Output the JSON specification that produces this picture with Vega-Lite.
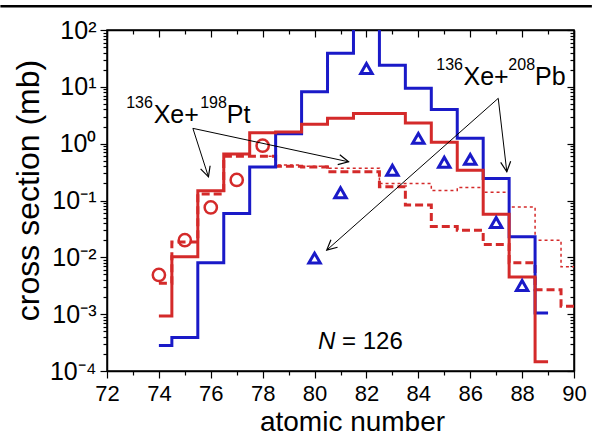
{
  "$schema": "https://vega.github.io/schema/vega-lite/v6.json",
  "width": 467,
  "height": 341,
  "autosize": {"type": "none"},
  "padding": {"left": 107, "top": 30, "right": 18, "bottom": 66},
  "background": "white",
  "config": {
    "view": {"stroke": "black", "strokeWidth": 1.5},
    "font": "Liberation Sans",
    "axis": {"domainColor": "black", "domainWidth": 1.5, "tickColor": "black", "tickWidth": 1.2, "labelColor": "black", "titleColor": "black", "grid": false, "labelFont": "Liberation Sans", "titleFont": "Liberation Sans", "titleFontWeight": "normal"}
  },
  "datasets": {
    "steps": [
      {"z": 78, "v": 0.6, "s": "dot"}, {"z": 79, "v": 0.42, "s": "dot"}, {"z": 80, "v": 0.40, "s": "dot"}, {"z": 81, "v": 0.37, "s": "dot"}, {"z": 82, "v": 0.37, "s": "dot"}, {"z": 83, "v": 0.2, "s": "dot"}, {"z": 84, "v": 0.2, "s": "dot"}, {"z": 85, "v": 0.15, "s": "dot"}, {"z": 86, "v": 0.17, "s": "dot"}, {"z": 87, "v": 0.14, "s": "dot"}, {"z": 88, "v": 0.077, "s": "dot"}, {"z": 89, "v": 0.020, "s": "dot"}, {"z": 90, "v": 0.0068, "s": "dot"},
      {"z": 74, "v": 0.0035, "s": "dash"}, {"z": 75, "v": 0.0187, "s": "dash"}, {"z": 76, "v": 0.13, "s": "dash"}, {"z": 77, "v": 0.6, "s": "dash"}, {"z": 78, "v": 0.6, "s": "dash"}, {"z": 79, "v": 0.40, "s": "dash"}, {"z": 80, "v": 0.39, "s": "dash"}, {"z": 81, "v": 0.32, "s": "dash"}, {"z": 82, "v": 0.32, "s": "dash"}, {"z": 83, "v": 0.174, "s": "dash"}, {"z": 84, "v": 0.083, "s": "dash"}, {"z": 85, "v": 0.035, "s": "dash"}, {"z": 86, "v": 0.030, "s": "dash"}, {"z": 87, "v": 0.0169, "s": "dash"}, {"z": 88, "v": 0.008, "s": "dash"}, {"z": 89, "v": 0.0027, "s": "dash"}, {"z": 90, "v": 0.00138, "s": "dash"},
      {"z": 74, "v": 0.00028, "s": "blue"}, {"z": 75, "v": 0.00039, "s": "blue"}, {"z": 76, "v": 0.008, "s": "blue"}, {"z": 77, "v": 0.059, "s": "blue"}, {"z": 78, "v": 0.39, "s": "blue"}, {"z": 79, "v": 1.5, "s": "blue"}, {"z": 80, "v": 8.2, "s": "blue"}, {"z": 81, "v": 39, "s": "blue"}, {"z": 82, "v": 500, "s": "blue"}, {"z": 83, "v": 24, "s": "blue"}, {"z": 84, "v": 9.4, "s": "blue"}, {"z": 85, "v": 4.0, "s": "blue"}, {"z": 86, "v": 1.24, "s": "blue"}, {"z": 87, "v": 0.245, "s": "blue"}, {"z": 88, "v": 0.023, "s": "blue"}, {"z": 89, "v": 0.00105, "s": "blue"},
      {"z": 74, "v": 0.00093, "s": "red"}, {"z": 75, "v": 0.0102, "s": "red"}, {"z": 76, "v": 0.148, "s": "red"}, {"z": 77, "v": 0.656, "s": "red"}, {"z": 78, "v": 1.55, "s": "red"}, {"z": 79, "v": 1.6, "s": "red"}, {"z": 80, "v": 2.2, "s": "red"}, {"z": 81, "v": 2.8, "s": "red"}, {"z": 82, "v": 3.4, "s": "red"}, {"z": 83, "v": 3.4, "s": "red"}, {"z": 84, "v": 2.3, "s": "red"}, {"z": 85, "v": 1.06, "s": "red"}, {"z": 86, "v": 0.34, "s": "red"}, {"z": 87, "v": 0.057, "s": "red"}, {"z": 88, "v": 0.0045, "s": "red"}, {"z": 89, "v": 0.000145, "s": "red"}
    ],
    "exp": [
      {"z": 74, "v": 0.0049, "t": "circle"}, {"z": 75, "v": 0.020, "t": "circle"}, {"z": 76, "v": 0.0755, "t": "circle"}, {"z": 77, "v": 0.23, "t": "circle"}, {"z": 78, "v": 0.92, "t": "circle"},
      {"z": 80, "v": 0.0097, "t": "tri"}, {"z": 81, "v": 0.137, "t": "tri"}, {"z": 82, "v": 21, "t": "tri"}, {"z": 83, "v": 0.34, "t": "tri"}, {"z": 84, "v": 1.24, "t": "tri"}, {"z": 85, "v": 0.47, "t": "tri"}, {"z": 86, "v": 0.53, "t": "tri"}, {"z": 87, "v": 0.041, "t": "tri"}, {"z": 88, "v": 0.0032, "t": "tri"}
    ],
    "arrows": [
      {"id": "a1", "o": 0, "z": 75.31, "v": 1.86}, {"id": "a1", "o": 1, "z": 75.91, "v": 0.261},
      {"id": "a2", "o": 0, "z": 75.31, "v": 1.86}, {"id": "a2", "o": 1, "z": 81.31, "v": 0.48},
      {"id": "b1", "o": 0, "z": 87.08, "v": 6.28}, {"id": "b1", "o": 1, "z": 87.41, "v": 0.32},
      {"id": "b2", "o": 0, "z": 87.08, "v": 6.28}, {"id": "b2", "o": 1, "z": 80.47, "v": 0.0134}
    ],
    "heads": [
      {"z": 75.91, "v": 0.261, "a": 72}, {"z": 81.31, "v": 0.48, "a": 12}, {"z": 87.41, "v": 0.32, "a": 83.5}, {"z": 80.47, "v": 0.0134, "a": 138.5}
    ],
    "labels": [
      {"z": 72.74, "v": 4.24, "t": "136", "s": 16}, {"z": 73.80, "v": 2.28, "t": "Xe+", "s": 25}, {"z": 75.59, "v": 4.24, "t": "198", "s": 16}, {"z": 76.62, "v": 2.28, "t": "Pt", "s": 25},
      {"z": 84.69, "v": 19.8, "t": "136", "s": 16}, {"z": 85.74, "v": 10.8, "t": "Xe+", "s": 25}, {"z": 87.47, "v": 19.8, "t": "208", "s": 16}, {"z": 88.50, "v": 10.8, "t": "Pb", "s": 25},
      {"z": 81.06, "v": 0.000242, "t": "= 126", "s": 24}
    ],
    "italic": [{"z": 80.13, "v": 0.000242, "t": "N"}],
    "frame": [{"z": 67.89, "z2": 90.69, "v": 262}]
  },
  "resolve": {"axis": {"x": "independent", "y": "independent"}},
  "layer": [
    {
      "data": {"name": "steps"},
      "transform": [{"filter": "datum.s == 'dot'"}],
      "mark": {"type": "line", "interpolate": "step", "color": "#d42a2a", "strokeWidth": 1.5, "strokeDash": [3, 3], "clip": true},
      "encoding": {
        "x": {"field": "z", "type": "quantitative", "scale": {"domain": [72, 90], "nice": false, "zero": false},
          "axis": {"orient": "bottom", "values": [72,73,74,75,76,77,78,79,80,81,82,83,84,85,86,87,88,89,90],
            "labelExpr": "datum.value % 2 == 0 ? datum.label : ''", "labelOverlap": false, "labelFlush": false,
            "tickSize": {"condition": {"test": "datum.value % 2 == 0", "value": 7}, "value": 4},
            "labelFontSize": 22, "labelPadding": 5, "title": "atomic number", "titleFontSize": 28, "titlePadding": 4, "titleX": 245}},
        "y": {"field": "v", "type": "quantitative", "scale": {"type": "log", "domain": [0.0001, 100], "nice": false},
          "axis": {"orient": "left",
            "values": [0.0001,0.0002,0.0003,0.0004,0.0005,0.0006,0.0007,0.0008,0.0009,0.001,0.002,0.003,0.004,0.005,0.006,0.007,0.008,0.009,0.01,0.02,0.03,0.04,0.05,0.06,0.07,0.08,0.09,0.1,0.2,0.3,0.4,0.5,0.6,0.7,0.8,0.9,1,2,3,4,5,6,7,8,9,10,20,30,40,50,60,70,80,90,100],
            "labelExpr": "abs(log(datum.value)/LN10 - round(log(datum.value)/LN10)) > 0.001 ? '' : '10' + (round(log(datum.value)/LN10) < 0 ? '⁻' : '') + ['⁰','¹','²','³','⁴'][abs(round(log(datum.value)/LN10))]",
            "labelOverlap": false, "labelFlush": false,
            "tickSize": {"condition": {"test": "abs(log(datum.value)/LN10 - round(log(datum.value)/LN10)) < 0.001", "value": 7}, "value": 4},
            "labelFontSize": 25, "labelPadding": 4, "title": "cross section (mb)", "titleFontSize": 32, "titlePadding": 4, "titleY": 160}}
      }
    },
    {
      "data": {"name": "steps"},
      "transform": [{"filter": "datum.s == 'dash'"}],
      "mark": {"type": "line", "interpolate": "step", "color": "#d42a2a", "strokeWidth": 3, "strokeDash": [8, 4], "clip": true},
      "encoding": {
        "x": {"field": "z", "type": "quantitative", "scale": {"domain": [72, 90], "nice": false, "zero": false},
          "axis": {"orient": "top", "values": [72,73,74,75,76,77,78,79,80,81,82,83,84,85,86,87,88,89,90], "labels": false, "title": null,
            "tickSize": {"condition": {"test": "datum.value % 2 == 0", "value": -7}, "value": -4}}},
        "y": {"field": "v", "type": "quantitative", "scale": {"type": "log", "domain": [0.0001, 100], "nice": false},
          "axis": {"orient": "right", "labels": false, "title": null,
            "values": [0.0001,0.0002,0.0003,0.0004,0.0005,0.0006,0.0007,0.0008,0.0009,0.001,0.002,0.003,0.004,0.005,0.006,0.007,0.008,0.009,0.01,0.02,0.03,0.04,0.05,0.06,0.07,0.08,0.09,0.1,0.2,0.3,0.4,0.5,0.6,0.7,0.8,0.9,1,2,3,4,5,6,7,8,9,10,20,30,40,50,60,70,80,90,100],
            "tickSize": {"condition": {"test": "abs(log(datum.value)/LN10 - round(log(datum.value)/LN10)) < 0.001", "value": -7}, "value": -4}}}
      }
    },
    {
      "data": {"name": "steps"},
      "transform": [{"filter": "datum.s == 'blue'"}],
      "mark": {"type": "line", "interpolate": "step", "color": "#1a1ac8", "strokeWidth": 3, "clip": true},
      "encoding": {
        "x": {"field": "z", "type": "quantitative", "scale": {"domain": [72, 90], "nice": false, "zero": false}, "axis": null},
        "y": {"field": "v", "type": "quantitative", "scale": {"type": "log", "domain": [0.0001, 100], "nice": false}, "axis": null}
      }
    },
    {
      "data": {"name": "steps"},
      "transform": [{"filter": "datum.s == 'red'"}],
      "mark": {"type": "line", "interpolate": "step", "color": "#d42a2a", "strokeWidth": 3, "clip": true},
      "encoding": {
        "x": {"field": "z", "type": "quantitative", "scale": {"domain": [72, 90], "nice": false, "zero": false}, "axis": null},
        "y": {"field": "v", "type": "quantitative", "scale": {"type": "log", "domain": [0.0001, 100], "nice": false}, "axis": null}
      }
    },
    {
      "data": {"name": "exp"},
      "transform": [{"filter": "datum.t == 'circle'"}],
      "mark": {"type": "point", "shape": "circle", "filled": false, "color": "#d42a2a", "strokeWidth": 2.5, "size": 150, "opacity": 1},
      "encoding": {
        "x": {"field": "z", "type": "quantitative", "scale": {"domain": [72, 90], "nice": false, "zero": false}, "axis": null},
        "y": {"field": "v", "type": "quantitative", "scale": {"type": "log", "domain": [0.0001, 100], "nice": false}, "axis": null}
      }
    },
    {
      "data": {"name": "exp"},
      "transform": [{"filter": "datum.t == 'tri'"}],
      "mark": {"type": "point", "shape": "triangle-up", "filled": false, "color": "#1a1ac8", "strokeWidth": 3, "size": 130, "opacity": 1},
      "encoding": {
        "x": {"field": "z", "type": "quantitative", "scale": {"domain": [72, 90], "nice": false, "zero": false}, "axis": null},
        "y": {"field": "v", "type": "quantitative", "scale": {"type": "log", "domain": [0.0001, 100], "nice": false}, "axis": null}
      }
    },
    {
      "data": {"name": "arrows"},
      "mark": {"type": "line", "color": "black", "strokeWidth": 1, "clip": false},
      "encoding": {
        "x": {"field": "z", "type": "quantitative", "scale": {"domain": [72, 90], "nice": false, "zero": false}, "axis": null},
        "y": {"field": "v", "type": "quantitative", "scale": {"type": "log", "domain": [0.0001, 100], "nice": false}, "axis": null},
        "detail": {"field": "id"},
        "order": {"field": "o"}
      }
    },
    {
      "data": {"name": "heads"},
      "mark": {"type": "point", "shape": "M-2,-1L0,0L-2,1", "filled": false, "color": "black", "strokeWidth": 1.2, "size": 100, "opacity": 1},
      "encoding": {
        "x": {"field": "z", "type": "quantitative", "scale": {"domain": [72, 90], "nice": false, "zero": false}, "axis": null},
        "y": {"field": "v", "type": "quantitative", "scale": {"type": "log", "domain": [0.0001, 100], "nice": false}, "axis": null},
        "angle": {"field": "a", "type": "quantitative", "scale": null}
      }
    },
    {
      "data": {"name": "labels"},
      "mark": {"type": "text", "align": "left", "baseline": "alphabetic", "color": "black", "font": "Liberation Sans"},
      "encoding": {
        "x": {"field": "z", "type": "quantitative", "scale": {"domain": [72, 90], "nice": false, "zero": false}, "axis": null},
        "y": {"field": "v", "type": "quantitative", "scale": {"type": "log", "domain": [0.0001, 100], "nice": false}, "axis": null},
        "text": {"field": "t"},
        "size": {"field": "s", "type": "quantitative", "scale": null}
      }
    },
    {
      "data": {"name": "italic"},
      "mark": {"type": "text", "align": "left", "baseline": "alphabetic", "color": "black", "font": "Liberation Sans", "fontStyle": "italic", "fontSize": 24},
      "encoding": {
        "x": {"field": "z", "type": "quantitative", "scale": {"domain": [72, 90], "nice": false, "zero": false}, "axis": null},
        "y": {"field": "v", "type": "quantitative", "scale": {"type": "log", "domain": [0.0001, 100], "nice": false}, "axis": null},
        "text": {"field": "t"}
      }
    },
    {
      "data": {"name": "frame"},
      "mark": {"type": "rule", "color": "black", "strokeWidth": 2.5, "clip": false},
      "encoding": {
        "x": {"field": "z", "type": "quantitative", "scale": {"domain": [72, 90], "nice": false, "zero": false}, "axis": null},
        "x2": {"field": "z2"},
        "y": {"field": "v", "type": "quantitative", "scale": {"type": "log", "domain": [0.0001, 100], "nice": false}, "axis": null}
      }
    }
  ]
}
